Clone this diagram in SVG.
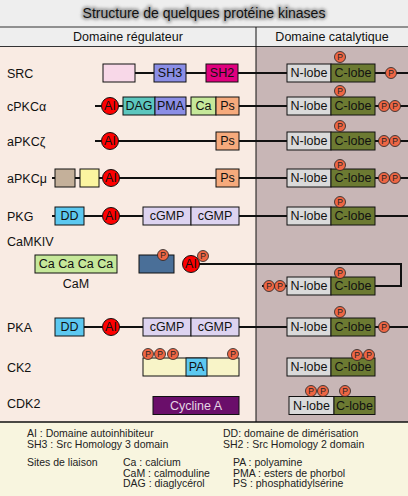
<svg xmlns="http://www.w3.org/2000/svg" width="408" height="496" viewBox="0 0 408 496">
<defs>
<style>
text{font-family:"Liberation Sans",Arial,sans-serif;fill:#111}
.lbl{font-size:12.5px}
.bx{stroke:#111;stroke-width:1}
.bt{font-size:12.5px;text-anchor:middle;dominant-baseline:central}
.ln{stroke:#111;stroke-width:2;fill:none}
.nl{fill:#dadada}
.cl{fill:#6c7a32}
.ai{fill:#ff0000;stroke:#111;stroke-width:1}
.ait{font-size:12.5px;text-anchor:middle;dominant-baseline:central}
.p{fill:#ee6644;stroke:#222;stroke-width:0.8}
.pt{font-size:8.5px;text-anchor:middle;dominant-baseline:central;fill:#222}
.lg{font-size:10.5px;fill:#222}
</style>
<filter id="glow" x="-10%" y="-50%" width="120%" height="200%"><feGaussianBlur stdDeviation="1.8"/></filter>
</defs>
<rect width="408" height="496" fill="#eeeeee"/>
<rect x="0" y="47" width="256" height="375" fill="#f9ebe3"/>
<rect x="256" y="47" width="152" height="375" fill="#c8b6b6"/>
<rect x="0" y="422" width="408" height="74" fill="#f8f5df"/>
<g id="title">
<text x="204" y="18" text-anchor="middle" font-size="14" style="fill:#9a9a9a;stroke:#9a9a9a;stroke-width:3.5" opacity="0.85" filter="url(#glow)">Structure de quelques protéine kinases</text>
<text x="204" y="18" text-anchor="middle" font-size="14">Structure de quelques protéine kinases</text>
</g>
<g id="header">
<line x1="0" y1="27" x2="408" y2="27" stroke="#333" stroke-width="1"/>
<line x1="0" y1="46.5" x2="408" y2="46.5" stroke="#333" stroke-width="1"/>
<line x1="256" y1="27" x2="256" y2="422" stroke="#111" stroke-width="1"/>
<line x1="0" y1="422" x2="408" y2="422" stroke="#111" stroke-width="1.5"/>
<text x="128" y="41" text-anchor="middle" font-size="12.5">Domaine régulateur</text>
<text x="332" y="41" text-anchor="middle" font-size="12.5">Domaine catalytique</text>
</g>
<g id="connectors">
<path class="ln" d="M135 73H408"/>
<path class="ln" d="M95 106H408"/>
<path class="ln" d="M95 141H408"/>
<path class="ln" d="M52 178H408"/>
<path class="ln" d="M52 216H408"/>
<path class="ln" d="M190 264H401V286H375"/>
<path class="ln" d="M262 286H287"/>
<path class="ln" d="M84 327H408"/>
</g>
<g id="SRC">
<text class="lbl" x="7" y="78">SRC</text>
<rect class="bx" x="103" y="64" width="32" height="18" fill="#f8d8e8"/>
<rect class="bx" x="154" y="64" width="32" height="18" fill="#8b8ee6"/>
<text class="bt" x="170" y="73">SH3</text>
<rect class="bx" x="206" y="64" width="32" height="18" fill="#e0007e"/>
<text class="bt" x="222" y="73">SH2</text>
<rect class="bx nl" x="287" y="64" width="44" height="18"/>
<text class="bt" x="309" y="73">N-lobe</text>
<rect class="bx cl" x="331" y="64" width="44" height="18"/>
<text class="bt" x="353" y="73">C-lobe</text>
<circle class="p" cx="340" cy="57" r="5.5"/><text class="pt" x="340" y="57">P</text>
<circle class="p" cx="391" cy="73" r="5.5"/><text class="pt" x="391" y="73">P</text>
</g>
<g id="cPKCa">
<text class="lbl" x="7" y="111">cPKCα</text>
<circle class="ai" cx="110" cy="106" r="8.5"/><text class="ait" x="110" y="106">AI</text>
<rect class="bx" x="123" y="97" width="32" height="18" fill="#5cc6be"/>
<text class="bt" x="139" y="106">DAG</text>
<rect class="bx" x="155" y="97" width="31" height="18" fill="#8b8ee6"/>
<text class="bt" x="170.5" y="106">PMA</text>
<rect class="bx" x="191" y="97" width="25" height="18" fill="#c6e89a"/>
<text class="bt" x="203.5" y="106">Ca</text>
<rect class="bx" x="216" y="97" width="23" height="18" fill="#f6aa7c"/>
<text class="bt" x="227.5" y="106">Ps</text>
<rect class="bx nl" x="287" y="97" width="44" height="18"/>
<text class="bt" x="309" y="106">N-lobe</text>
<rect class="bx cl" x="331" y="97" width="44" height="18"/>
<text class="bt" x="353" y="106">C-lobe</text>
<circle class="p" cx="340" cy="91" r="5.5"/><text class="pt" x="340" y="91">P</text>
<circle class="p" cx="384" cy="106" r="5.5"/><text class="pt" x="384" y="106">P</text>
<circle class="p" cx="395" cy="106" r="5.5"/><text class="pt" x="395" y="106">P</text>
</g>
<g id="aPKCz">
<text class="lbl" x="7" y="146">aPKCζ</text>
<circle class="ai" cx="110" cy="141" r="8.5"/><text class="ait" x="110" y="141">AI</text>
<rect class="bx" x="216" y="132" width="23" height="18" fill="#f6aa7c"/>
<text class="bt" x="227.5" y="141">Ps</text>
<rect class="bx nl" x="287" y="132" width="44" height="18"/>
<text class="bt" x="309" y="141">N-lobe</text>
<rect class="bx cl" x="331" y="132" width="44" height="18"/>
<text class="bt" x="353" y="141">C-lobe</text>
<circle class="p" cx="340" cy="126" r="5.5"/><text class="pt" x="340" y="126">P</text>
<circle class="p" cx="384" cy="141" r="5.5"/><text class="pt" x="384" y="141">P</text>
<circle class="p" cx="395" cy="141" r="5.5"/><text class="pt" x="395" y="141">P</text>
</g>
<g id="aPKCm">
<text class="lbl" x="7" y="183">aPKCμ</text>
<rect class="bx" x="55" y="169" width="20" height="18" fill="#c4b09a"/>
<rect class="bx" x="80" y="169" width="19" height="18" fill="#fbf5a0"/>
<circle class="ai" cx="111" cy="178" r="8.5"/><text class="ait" x="111" y="178">AI</text>
<rect class="bx" x="216" y="169" width="23" height="18" fill="#f6aa7c"/>
<text class="bt" x="227.5" y="178">Ps</text>
<rect class="bx nl" x="287" y="169" width="44" height="18"/>
<text class="bt" x="309" y="178">N-lobe</text>
<rect class="bx cl" x="331" y="169" width="44" height="18"/>
<text class="bt" x="353" y="178">C-lobe</text>
<circle class="p" cx="340" cy="165" r="5.5"/><text class="pt" x="340" y="165">P</text>
<circle class="p" cx="384" cy="178" r="5.5"/><text class="pt" x="384" y="178">P</text>
<circle class="p" cx="395" cy="178" r="5.5"/><text class="pt" x="395" y="178">P</text>
</g>
<g id="PKG">
<text class="lbl" x="7" y="221">PKG</text>
<rect class="bx" x="55" y="207" width="29" height="18" fill="#5cc8f0"/>
<text class="bt" x="69.5" y="216">DD</text>
<circle class="ai" cx="111" cy="216" r="8.5"/><text class="ait" x="111" y="216">AI</text>
<rect class="bx" x="143" y="207" width="48" height="18" fill="#ddd3f0"/>
<text class="bt" x="167" y="216">cGMP</text>
<rect class="bx" x="191" y="207" width="48" height="18" fill="#ddd3f0"/>
<text class="bt" x="215" y="216">cGMP</text>
<rect class="bx nl" x="287" y="207" width="44" height="18"/>
<text class="bt" x="309" y="216">N-lobe</text>
<rect class="bx cl" x="331" y="207" width="44" height="18"/>
<text class="bt" x="353" y="216">C-lobe</text>
<circle class="p" cx="340" cy="202" r="5.5"/><text class="pt" x="340" y="202">P</text>
</g>
<g id="CaMKIV">
<text class="lbl" x="7" y="246">CaMKIV</text>
<rect class="bx" x="35" y="255" width="82" height="18" fill="#c6e89a"/>
<text class="bt" x="76" y="264">Ca Ca Ca Ca</text>
<text class="lbl" x="76" y="288" text-anchor="middle">CaM</text>
<rect class="bx" x="139" y="255" width="35" height="18" fill="#4a6f98"/>
<circle class="p" cx="163" cy="255" r="5.5"/><text class="pt" x="163" y="255">P</text>
<circle class="ai" cx="191" cy="264" r="8.5"/><text class="ait" x="191" y="264">AI</text>
<circle class="p" cx="203" cy="256" r="5.5"/><text class="pt" x="203" y="256">P</text>
<circle class="p" cx="269" cy="286" r="5.5"/><text class="pt" x="269" y="286">P</text>
<circle class="p" cx="280" cy="286" r="5.5"/><text class="pt" x="280" y="286">P</text>
<rect class="bx nl" x="287" y="277" width="44" height="18"/>
<text class="bt" x="309" y="286">N-lobe</text>
<rect class="bx cl" x="331" y="277" width="44" height="18"/>
<text class="bt" x="353" y="286">C-lobe</text>
<circle class="p" cx="340" cy="273" r="5.5"/><text class="pt" x="340" y="273">P</text>
</g>
<g id="PKA">
<text class="lbl" x="7" y="332">PKA</text>
<rect class="bx" x="55" y="318" width="29" height="18" fill="#5cc8f0"/>
<text class="bt" x="69.5" y="327">DD</text>
<circle class="ai" cx="111" cy="327" r="8.5"/><text class="ait" x="111" y="327">AI</text>
<rect class="bx" x="143" y="318" width="48" height="18" fill="#ddd3f0"/>
<text class="bt" x="167" y="327">cGMP</text>
<rect class="bx" x="191" y="318" width="48" height="18" fill="#ddd3f0"/>
<text class="bt" x="215" y="327">cGMP</text>
<rect class="bx nl" x="287" y="318" width="44" height="18"/>
<text class="bt" x="309" y="327">N-lobe</text>
<rect class="bx cl" x="331" y="318" width="44" height="18"/>
<text class="bt" x="353" y="327">C-lobe</text>
<circle class="p" cx="340" cy="312" r="5.5"/><text class="pt" x="340" y="312">P</text>
<circle class="p" cx="384" cy="327" r="5.5"/><text class="pt" x="384" y="327">P</text>
</g>
<g id="CK2">
<text class="lbl" x="7" y="372">CK2</text>
<rect class="bx" x="143" y="358" width="96" height="18" fill="#f8f4c8"/>
<rect class="bx" x="186" y="358" width="21" height="18" fill="#5cc8f0"/>
<text class="bt" x="196.5" y="367">PA</text>
<circle class="p" cx="148" cy="354" r="5.5"/><text class="pt" x="148" y="354">P</text>
<circle class="p" cx="160" cy="354" r="5.5"/><text class="pt" x="160" y="354">P</text>
<circle class="p" cx="173" cy="354" r="5.5"/><text class="pt" x="173" y="354">P</text>
<circle class="p" cx="233" cy="354" r="5.5"/><text class="pt" x="233" y="354">P</text>
<rect class="bx nl" x="287" y="358" width="44" height="18"/>
<text class="bt" x="309" y="367">N-lobe</text>
<rect class="bx cl" x="331" y="358" width="44" height="18"/>
<text class="bt" x="353" y="367">C-lobe</text>
<circle class="p" cx="357" cy="355" r="5.5"/><text class="pt" x="357" y="355">P</text>
<circle class="p" cx="369" cy="355" r="5.5"/><text class="pt" x="369" y="355">P</text>
</g>
<g id="CDK2">
<text class="lbl" x="7" y="408">CDK2</text>
<rect class="bx" x="153" y="396.5" width="86" height="18" fill="#6a0e6a"/>
<text class="bt" x="196" y="405.5" style="fill:#e4d4e4">Cycline A</text>
<rect class="bx nl" x="289" y="396.5" width="45" height="18"/>
<text class="bt" x="311.5" y="405.5">N-lobe</text>
<rect class="bx cl" x="334" y="396.5" width="41" height="18"/>
<text class="bt" x="354.5" y="405.5">C-lobe</text>
<circle class="p" cx="311" cy="391" r="5.5"/><text class="pt" x="311" y="391">P</text>
<circle class="p" cx="323" cy="391" r="5.5"/><text class="pt" x="323" y="391">P</text>
<circle class="p" cx="345" cy="391" r="5.5"/><text class="pt" x="345" y="391">P</text>
</g>
<g id="legend">
<text class="lg" x="27" y="437">AI : Domaine autoinhibiteur</text>
<text class="lg" x="223" y="437">DD: domaine de dimérisation</text>
<text class="lg" x="27" y="448">SH3 : Src Homology 3 domain</text>
<text class="lg" x="223" y="448">SH2 : Src Homology 2 domain</text>
<text class="lg" x="27" y="466">Sites de liaison</text>
<text class="lg" x="123" y="466">Ca : calcium</text>
<text class="lg" x="233" y="466">PA : polyamine</text>
<text class="lg" x="123" y="476.5">CaM : calmoduline</text>
<text class="lg" x="233" y="476.5">PMA : esters de phorbol</text>
<text class="lg" x="123" y="487">DAG : diaglycérol</text>
<text class="lg" x="233" y="487">PS : phosphatidylsérine</text>
</g>
</svg>
